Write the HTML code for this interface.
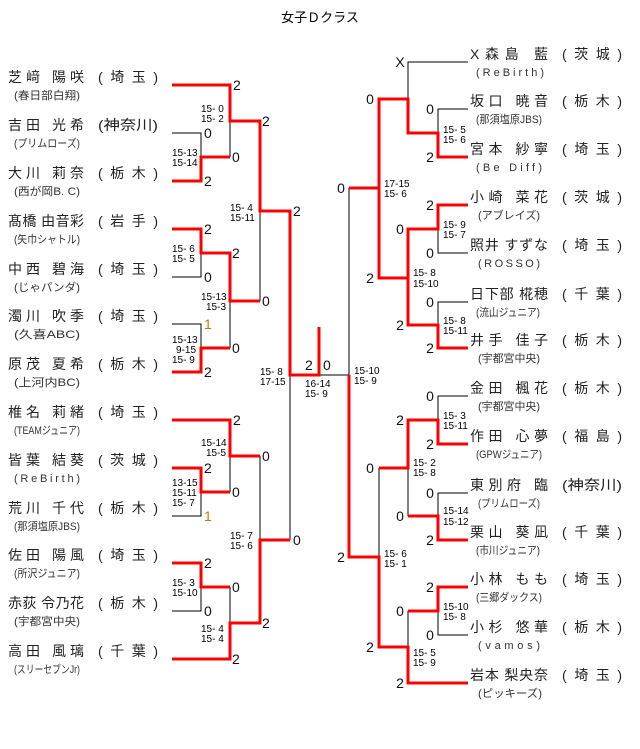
<!DOCTYPE html>
<html><head><meta charset="utf-8"><style>
html,body{margin:0;padding:0;background:#fff;width:640px;height:749px;overflow:hidden}
svg{display:block}
.nm{font-family:"Liberation Sans","Noto Sans CJK JP",sans-serif;font-size:14px;fill:#222}
.sb{font-family:"Liberation Sans","Noto Sans CJK JP",sans-serif;font-size:11px;fill:#333}
.sc{font-family:"Liberation Sans",sans-serif;font-size:14px;fill:#111}
.ms{font-family:"Liberation Sans",sans-serif;font-size:10px;fill:#000}
.t{font-family:"Liberation Sans","Noto Sans CJK JP",sans-serif;font-size:13px;fill:#000}
</style></head><body>
<svg width="640" height="749" viewBox="0 0 640 749" xmlns="http://www.w3.org/2000/svg">
<text class="t" x="320" y="22" text-anchor="middle">女子Ｄクラス</text>
<g stroke="#000" stroke-width="1" fill="none">
<path d="M172 133H201V157M230 121V157M260 211V301M172 277H201V253M230 301V348M172 324H201V348M290 375V540M230 456V492M201 492V516H172M260 456V540M201 587V611H172M230 587V623M349 188V375H319"/>
<path d="M468 62H408V99M468 109H438V133M438 229V253H468M468 302H438V325M468 396H438V420M408 468V516M468 493H438V516M379 468V557M438 611V635H468M408 611V647"/>
</g>
<g stroke="#f00" stroke-width="3" fill="none" stroke-linejoin="miter">
<polyline points="172,85 230,85 230,121 260,121 260,211 290,211 290,375 319,375 319,327"/>
<polyline points="172,181 201,181 201,157 230,157"/>
<polyline points="172,229 201,229 201,253 230,253 230,301 260,301"/>
<polyline points="172,372 201,372 201,348 230,348"/>
<polyline points="172,420 230,420 230,456 260,456"/>
<polyline points="172,468 201,468 201,492 230,492"/>
<polyline points="290,540 260,540 260,623 230,623 230,659 172,659"/>
<polyline points="172,563 201,563 201,587 230,587"/>
<polyline points="349,188 379,188 379,99 408,99 408,133 438,133 438,157 468,157"/>
<polyline points="379,188 379,278 408,278 408,229 438,229 438,205 468,205"/>
<polyline points="408,278 408,325 438,325 438,348 468,348"/>
<polyline points="349,375 349,557 379,557 379,647 408,647 408,683 468,683"/>
<polyline points="379,468 408,468 408,420 438,420 438,444 468,444"/>
<polyline points="408,516 438,516 438,540 468,540"/>
<polyline points="408,611 438,611 438,587 468,587"/>
</g>
<g class="nm">
<text x="8" y="82" textLength="76" lengthAdjust="spacing">芝﨑 陽咲</text><text x="98" y="82" textLength="60" lengthAdjust="spacing">( 埼 玉 )</text>
<text x="8" y="130" textLength="76" lengthAdjust="spacing">吉田 光希</text><text x="98" y="130" textLength="60" lengthAdjust="spacingAndGlyphs">(神奈川)</text>
<text x="8" y="178" textLength="76" lengthAdjust="spacing">大川 莉奈</text><text x="98" y="178" textLength="60" lengthAdjust="spacing">( 栃 木 )</text>
<text x="8" y="226" textLength="76" lengthAdjust="spacing">髙橋 由音彩</text><text x="98" y="226" textLength="60" lengthAdjust="spacing">( 岩 手 )</text>
<text x="8" y="274" textLength="76" lengthAdjust="spacing">中西 碧海</text><text x="98" y="274" textLength="60" lengthAdjust="spacing">( 埼 玉 )</text>
<text x="8" y="321" textLength="76" lengthAdjust="spacing">濁川 吹季</text><text x="98" y="321" textLength="60" lengthAdjust="spacing">( 埼 玉 )</text>
<text x="8" y="369" textLength="76" lengthAdjust="spacing">原茂 夏希</text><text x="98" y="369" textLength="60" lengthAdjust="spacing">( 栃 木 )</text>
<text x="8" y="417" textLength="76" lengthAdjust="spacing">椎名 莉緒</text><text x="98" y="417" textLength="60" lengthAdjust="spacing">( 埼 玉 )</text>
<text x="8" y="465" textLength="76" lengthAdjust="spacing">皆葉 結葵</text><text x="98" y="465" textLength="60" lengthAdjust="spacing">( 茨 城 )</text>
<text x="8" y="513" textLength="76" lengthAdjust="spacing">荒川 千代</text><text x="98" y="513" textLength="60" lengthAdjust="spacing">( 栃 木 )</text>
<text x="8" y="560" textLength="76" lengthAdjust="spacing">佐田 陽風</text><text x="98" y="560" textLength="60" lengthAdjust="spacing">( 埼 玉 )</text>
<text x="8" y="608" textLength="76" lengthAdjust="spacing">赤荻 令乃花</text><text x="98" y="608" textLength="60" lengthAdjust="spacing">( 栃 木 )</text>
<text x="8" y="656" textLength="76" lengthAdjust="spacing">高田 風璃</text><text x="98" y="656" textLength="60" lengthAdjust="spacing">( 千 葉 )</text>
</g>
<g class="sb">
<text x="14" y="99" textLength="66" lengthAdjust="spacingAndGlyphs">(春日部白翔)</text>
<text x="14" y="147" textLength="66" lengthAdjust="spacingAndGlyphs">(プリムローズ)</text>
<text x="14" y="195" textLength="66" lengthAdjust="spacingAndGlyphs">(西が岡B. C)</text>
<text x="14" y="243" textLength="66" lengthAdjust="spacingAndGlyphs">(矢巾シャトル)</text>
<text x="14" y="291" textLength="66" lengthAdjust="spacingAndGlyphs">(じゃパンダ)</text>
<text x="14" y="338" textLength="66" lengthAdjust="spacingAndGlyphs">(久喜ABC)</text>
<text x="14" y="386" textLength="66" lengthAdjust="spacingAndGlyphs">(上河内BC)</text>
<text x="14" y="434" textLength="66" lengthAdjust="spacingAndGlyphs">(TEAMジュニア)</text>
<text x="14" y="482" textLength="66" lengthAdjust="spacing">(ReBirth)</text>
<text x="14" y="530" textLength="66" lengthAdjust="spacingAndGlyphs">(那須塩原JBS)</text>
<text x="14" y="577" textLength="66" lengthAdjust="spacingAndGlyphs">(所沢ジュニア)</text>
<text x="14" y="625" textLength="66" lengthAdjust="spacingAndGlyphs">(宇都宮中央)</text>
<text x="14" y="673" textLength="66" lengthAdjust="spacingAndGlyphs">(スリーセブンJr)</text>
</g>
<g class="nm">
<text x="470" y="59" textLength="78" lengthAdjust="spacing">X森島 藍</text><text x="562" y="59" textLength="60" lengthAdjust="spacing">( 茨 城 )</text>
<text x="470" y="106" textLength="78" lengthAdjust="spacing">坂口 暁音</text><text x="562" y="106" textLength="60" lengthAdjust="spacing">( 栃 木 )</text>
<text x="470" y="154" textLength="78" lengthAdjust="spacing">宮本 紗寧</text><text x="562" y="154" textLength="60" lengthAdjust="spacing">( 埼 玉 )</text>
<text x="470" y="202" textLength="78" lengthAdjust="spacing">小崎 菜花</text><text x="562" y="202" textLength="60" lengthAdjust="spacing">( 茨 城 )</text>
<text x="470" y="250" textLength="78" lengthAdjust="spacing">照井 すずな</text><text x="562" y="250" textLength="60" lengthAdjust="spacing">( 埼 玉 )</text>
<text x="470" y="299" textLength="78" lengthAdjust="spacing">日下部 椛穂</text><text x="562" y="299" textLength="60" lengthAdjust="spacing">( 千 葉 )</text>
<text x="470" y="345" textLength="78" lengthAdjust="spacing">井手 佳子</text><text x="562" y="345" textLength="60" lengthAdjust="spacing">( 栃 木 )</text>
<text x="470" y="393" textLength="78" lengthAdjust="spacing">金田 楓花</text><text x="562" y="393" textLength="60" lengthAdjust="spacing">( 栃 木 )</text>
<text x="470" y="441" textLength="78" lengthAdjust="spacing">作田 心夢</text><text x="562" y="441" textLength="60" lengthAdjust="spacing">( 福 島 )</text>
<text x="470" y="490" textLength="78" lengthAdjust="spacing">東別府 臨</text><text x="562" y="490" textLength="60" lengthAdjust="spacingAndGlyphs">(神奈川)</text>
<text x="470" y="537" textLength="78" lengthAdjust="spacing">栗山 葵凪</text><text x="562" y="537" textLength="60" lengthAdjust="spacing">( 千 葉 )</text>
<text x="470" y="584" textLength="78" lengthAdjust="spacing">小林 もも</text><text x="562" y="584" textLength="60" lengthAdjust="spacing">( 埼 玉 )</text>
<text x="470" y="632" textLength="78" lengthAdjust="spacing">小杉 悠華</text><text x="562" y="632" textLength="60" lengthAdjust="spacing">( 栃 木 )</text>
<text x="470" y="680" textLength="78" lengthAdjust="spacing">岩本 梨央奈</text><text x="562" y="680" textLength="60" lengthAdjust="spacing">( 埼 玉 )</text>
</g>
<g class="sb">
<text x="476" y="76" textLength="68" lengthAdjust="spacing">(ReBirth)</text>
<text x="476" y="123" textLength="66" lengthAdjust="spacingAndGlyphs">(那須塩原JBS)</text>
<text x="476" y="171" textLength="66" lengthAdjust="spacing">(Be Diff)</text>
<text x="478" y="219" textLength="62" lengthAdjust="spacingAndGlyphs">(アブレイズ)</text>
<text x="478" y="267" textLength="62" lengthAdjust="spacing">(ROSSO)</text>
<text x="476" y="316" textLength="64" lengthAdjust="spacingAndGlyphs">(流山ジュニア)</text>
<text x="478" y="362" textLength="62" lengthAdjust="spacingAndGlyphs">(宇都宮中央)</text>
<text x="478" y="410" textLength="62" lengthAdjust="spacingAndGlyphs">(宇都宮中央)</text>
<text x="476" y="458" textLength="66" lengthAdjust="spacingAndGlyphs">(GPWジュニア)</text>
<text x="478" y="507" textLength="62" lengthAdjust="spacingAndGlyphs">(プリムローズ)</text>
<text x="476" y="554" textLength="64" lengthAdjust="spacingAndGlyphs">(市川ジュニア)</text>
<text x="476" y="601" textLength="66" lengthAdjust="spacingAndGlyphs">(三郷ダックス)</text>
<text x="478" y="649" textLength="62" lengthAdjust="spacing">(vamos)</text>
<text x="478" y="697" textLength="64" lengthAdjust="spacingAndGlyphs">(ピッキーズ)</text>
</g>
<g class="sc">
<text x="233" y="90">2</text><text x="262" y="126">2</text><text x="204" y="138">0</text><text x="232" y="162">0</text>
<text x="204" y="186">2</text><text x="293" y="216">2</text><text x="204" y="234">2</text><text x="232" y="258">2</text>
<text x="204" y="282">0</text><text x="262" y="306">0</text><text x="204" y="329" fill="#c87800">1</text><text x="232" y="353">0</text>
<text x="204" y="377">2</text><text x="233" y="425">2</text><text x="262" y="461">0</text><text x="204" y="473">2</text>
<text x="232" y="497">0</text><text x="204" y="521" fill="#c87800">1</text><text x="293" y="545">0</text><text x="204" y="568">2</text>
<text x="232" y="592">0</text><text x="204" y="616">0</text><text x="262" y="628">2</text><text x="232" y="664">2</text>
<text x="305" y="370">2</text><text x="323" y="370">0</text>
</g>
<g class="sc" text-anchor="middle">
<text x="400" y="67">X</text><text x="370" y="104">0</text><text x="430" y="114">0</text><text x="430" y="162">2</text>
<text x="341" y="193">0</text><text x="430" y="210">2</text><text x="400" y="234">0</text><text x="430" y="258">0</text>
<text x="370" y="283">2</text><text x="430" y="307">0</text><text x="400" y="330">2</text><text x="430" y="353">2</text>
<text x="430" y="401">0</text><text x="400" y="425">2</text><text x="430" y="449">2</text><text x="370" y="473">0</text>
<text x="430" y="498">0</text><text x="400" y="521">0</text><text x="430" y="545">2</text><text x="341" y="562">2</text>
<text x="430" y="592">2</text><text x="400" y="616">0</text><text x="430" y="640">0</text><text x="370" y="652">2</text>
<text x="400" y="688">2</text>
</g>
<g class="ms" xml:space="preserve">
<text x="201" y="112">15- 0</text><text x="201" y="122">15- 2</text>
<text x="172" y="156">15-13</text><text x="172" y="166">15-14</text>
<text x="230" y="211">15- 4</text><text x="230" y="221">15-11</text>
<text x="172" y="252">15- 6</text><text x="172" y="262">15- 5</text>
<text x="201" y="300">15-13</text><text x="206" y="310">15-3</text>
<text x="172" y="343">15-13</text><text x="176" y="353">9-15</text><text x="172" y="363">15- 9</text>
<text x="260" y="375">15- 8</text><text x="260" y="385">17-15</text>
<text x="305" y="387">16-14</text><text x="305" y="397">15- 9</text>
<text x="201" y="446">15-14</text><text x="206" y="456">15-5</text>
<text x="172" y="486">13-15</text><text x="172" y="496">15-11</text><text x="172" y="506">15- 7</text>
<text x="230" y="539">15- 7</text><text x="230" y="549">15- 6</text>
<text x="172" y="586">15- 3</text><text x="172" y="596">15-10</text>
<text x="201" y="632">15- 4</text><text x="201" y="642">15- 4</text>
<text x="443" y="133">15- 5</text><text x="443" y="143">15- 6</text>
<text x="384" y="187">17-15</text><text x="384" y="197">15- 6</text>
<text x="443" y="228">15- 9</text><text x="443" y="238">15- 7</text>
<text x="413" y="276">15- 8</text><text x="413" y="287">15-10</text>
<text x="443" y="324">15- 8</text><text x="443" y="334">15-11</text>
<text x="354" y="374">15-10</text><text x="354" y="384">15- 9</text>
<text x="443" y="419">15- 3</text><text x="443" y="429">15-11</text>
<text x="413" y="466">15- 2</text><text x="413" y="476">15- 8</text>
<text x="443" y="514">15-14</text><text x="443" y="525">15-12</text>
<text x="384" y="557">15- 6</text><text x="384" y="567">15- 1</text>
<text x="443" y="610">15-10</text><text x="443" y="620">15- 8</text>
<text x="413" y="656">15- 5</text><text x="413" y="666">15- 9</text>
</g>
</svg>
</body></html>
